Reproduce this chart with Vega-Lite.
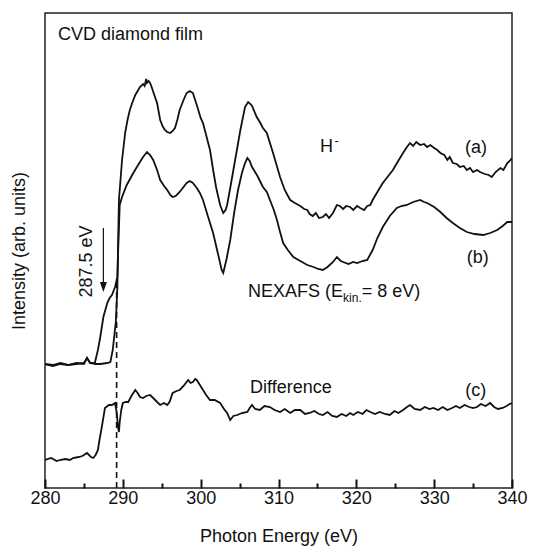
{
  "$schema": "https://vega.github.io/schema/vega-lite/v6.json",
  "width": 467,
  "height": 475,
  "autosize": {"type": "none"},
  "padding": {"left": 45, "top": 13, "right": 23, "bottom": 59},
  "background": "white",
  "config": {"view": {"stroke": "#222", "strokeWidth": 1.5}, "font": "Liberation Sans"},
  "resolve": {"axis": {"x": "independent"}},
  "datasets": {
    "one": [{}],
    "curves": [
      {"s":"a","e":280,"v":124},{"s":"a","e":281,"v":122},{"s":"a","e":282,"v":124},{"s":"a","e":283,"v":123},{"s":"a","e":284,"v":125},{"s":"a","e":285,"v":124},{"s":"a","e":285.4,"v":130},{"s":"a","e":285.8,"v":125},{"s":"a","e":286.5,"v":124},{"s":"a","e":287.1,"v":124},{"s":"a","e":288.0,"v":125},{"s":"a","e":288.4,"v":126},{"s":"a","e":288.7,"v":138},{"s":"a","e":289.1,"v":166},{"s":"a","e":289.3,"v":201},{"s":"a","e":289.4,"v":248},{"s":"a","e":289.5,"v":288},{"s":"a","e":289.9,"v":328},{"s":"a","e":290.3,"v":355},{"s":"a","e":290.6,"v":368},{"s":"a","e":290.9,"v":378},{"s":"a","e":291.2,"v":385},{"s":"a","e":291.6,"v":393},{"s":"a","e":292.2,"v":401},{"s":"a","e":292.6,"v":404},{"s":"a","e":292.8,"v":402},{"s":"a","e":293.0,"v":409},{"s":"a","e":293.1,"v":405},{"s":"a","e":293.3,"v":407},{"s":"a","e":293.5,"v":405},{"s":"a","e":293.7,"v":401},{"s":"a","e":294.0,"v":394},{"s":"a","e":294.4,"v":385},{"s":"a","e":294.8,"v":368},{"s":"a","e":295.1,"v":362},{"s":"a","e":295.4,"v":358},{"s":"a","e":295.7,"v":356},{"s":"a","e":296.1,"v":355},{"s":"a","e":296.4,"v":357},{"s":"a","e":296.7,"v":360},{"s":"a","e":297.0,"v":368},{"s":"a","e":297.3,"v":378},{"s":"a","e":297.8,"v":388},{"s":"a","e":298.2,"v":395},{"s":"a","e":298.6,"v":397},{"s":"a","e":299.0,"v":395},{"s":"a","e":299.5,"v":383},{"s":"a","e":300.0,"v":370},{"s":"a","e":300.3,"v":365},{"s":"a","e":300.7,"v":353},{"s":"a","e":301.2,"v":338},{"s":"a","e":301.6,"v":318},{"s":"a","e":302.0,"v":300},{"s":"a","e":302.5,"v":283},{"s":"a","e":302.9,"v":275},{"s":"a","e":303.2,"v":278},{"s":"a","e":303.4,"v":283},{"s":"a","e":303.8,"v":300},{"s":"a","e":304.2,"v":318},{"s":"a","e":304.7,"v":340},{"s":"a","e":305.1,"v":358},{"s":"a","e":305.7,"v":381},{"s":"a","e":306.1,"v":386},{"s":"a","e":306.4,"v":384},{"s":"a","e":306.6,"v":382},{"s":"a","e":307.2,"v":371},{"s":"a","e":307.6,"v":366},{"s":"a","e":308.0,"v":360},{"s":"a","e":308.5,"v":355},{"s":"a","e":309.3,"v":335},{"s":"a","e":310.2,"v":311},{"s":"a","e":310.8,"v":298},{"s":"a","e":311.5,"v":288},{"s":"a","e":312.1,"v":285},{"s":"a","e":312.8,"v":282},{"s":"a","e":313.3,"v":279},{"s":"a","e":313.7,"v":278},{"s":"a","e":314.0,"v":274},{"s":"a","e":314.4,"v":272},{"s":"a","e":314.8,"v":275},{"s":"a","e":315.2,"v":270},{"s":"a","e":315.7,"v":271},{"s":"a","e":316.1,"v":274},{"s":"a","e":316.5,"v":270},{"s":"a","e":317.0,"v":275},{"s":"a","e":317.5,"v":283},{"s":"a","e":317.9,"v":282},{"s":"a","e":318.3,"v":279},{"s":"a","e":318.7,"v":282},{"s":"a","e":319.2,"v":281},{"s":"a","e":319.6,"v":278},{"s":"a","e":320.1,"v":282},{"s":"a","e":320.5,"v":280},{"s":"a","e":321.0,"v":278},{"s":"a","e":321.4,"v":282},{"s":"a","e":321.8,"v":283},{"s":"a","e":322.1,"v":288},{"s":"a","e":322.7,"v":296},{"s":"a","e":323.4,"v":305},{"s":"a","e":324.0,"v":311},{"s":"a","e":324.7,"v":318},{"s":"a","e":325.3,"v":326},{"s":"a","e":326.0,"v":335},{"s":"a","e":326.5,"v":341},{"s":"a","e":326.9,"v":345},{"s":"a","e":327.3,"v":342},{"s":"a","e":327.7,"v":346},{"s":"a","e":328.2,"v":343},{"s":"a","e":328.7,"v":344},{"s":"a","e":329.1,"v":341},{"s":"a","e":329.5,"v":343},{"s":"a","e":330.0,"v":340},{"s":"a","e":330.4,"v":338},{"s":"a","e":330.8,"v":335},{"s":"a","e":331.3,"v":333},{"s":"a","e":331.7,"v":328},{"s":"a","e":332.0,"v":331},{"s":"a","e":332.4,"v":325},{"s":"a","e":332.9,"v":324},{"s":"a","e":333.3,"v":321},{"s":"a","e":333.8,"v":322},{"s":"a","e":334.2,"v":318},{"s":"a","e":334.6,"v":320},{"s":"a","e":335.0,"v":316},{"s":"a","e":335.5,"v":318},{"s":"a","e":335.9,"v":316},{"s":"a","e":336.5,"v":314},{"s":"a","e":337.0,"v":313},{"s":"a","e":337.4,"v":311},{"s":"a","e":337.9,"v":316},{"s":"a","e":338.5,"v":320},{"s":"a","e":338.9,"v":318},{"s":"a","e":339.4,"v":325},{"s":"a","e":339.7,"v":327},{"s":"a","e":340.0,"v":330},
      {"s":"b","e":280,"v":124},{"s":"b","e":281,"v":123},{"s":"b","e":282,"v":125},{"s":"b","e":283,"v":123},{"s":"b","e":284,"v":124},{"s":"b","e":285,"v":125},{"s":"b","e":285.4,"v":130},{"s":"b","e":285.8,"v":125},{"s":"b","e":286.4,"v":125},{"s":"b","e":286.8,"v":138},{"s":"b","e":287.1,"v":151},{"s":"b","e":287.5,"v":171},{"s":"b","e":288.0,"v":185},{"s":"b","e":288.3,"v":190},{"s":"b","e":288.6,"v":193},{"s":"b","e":289.0,"v":201},{"s":"b","e":289.3,"v":211},{"s":"b","e":289.4,"v":238},{"s":"b","e":289.6,"v":283},{"s":"b","e":289.9,"v":291},{"s":"b","e":290.5,"v":303},{"s":"b","e":291.2,"v":313},{"s":"b","e":291.8,"v":321},{"s":"b","e":292.2,"v":326},{"s":"b","e":292.6,"v":331},{"s":"b","e":293.1,"v":336},{"s":"b","e":293.5,"v":333},{"s":"b","e":293.9,"v":328},{"s":"b","e":294.4,"v":318},{"s":"b","e":294.8,"v":308},{"s":"b","e":295.3,"v":302},{"s":"b","e":295.7,"v":298},{"s":"b","e":296.1,"v":293},{"s":"b","e":296.4,"v":291},{"s":"b","e":296.8,"v":292},{"s":"b","e":297.3,"v":296},{"s":"b","e":297.8,"v":301},{"s":"b","e":298.2,"v":305},{"s":"b","e":298.6,"v":307},{"s":"b","e":299.0,"v":305},{"s":"b","e":299.5,"v":300},{"s":"b","e":299.9,"v":295},{"s":"b","e":300.3,"v":288},{"s":"b","e":301.0,"v":270},{"s":"b","e":301.6,"v":255},{"s":"b","e":302.2,"v":235},{"s":"b","e":302.7,"v":218},{"s":"b","e":302.9,"v":215},{"s":"b","e":303.3,"v":228},{"s":"b","e":303.8,"v":248},{"s":"b","e":304.3,"v":275},{"s":"b","e":304.8,"v":298},{"s":"b","e":305.3,"v":315},{"s":"b","e":305.7,"v":325},{"s":"b","e":306.0,"v":330},{"s":"b","e":306.3,"v":327},{"s":"b","e":306.6,"v":321},{"s":"b","e":307.3,"v":312},{"s":"b","e":308.0,"v":301},{"s":"b","e":308.5,"v":296},{"s":"b","e":308.9,"v":288},{"s":"b","e":309.4,"v":278},{"s":"b","e":309.8,"v":268},{"s":"b","e":310.2,"v":256},{"s":"b","e":310.6,"v":245},{"s":"b","e":311.2,"v":238},{"s":"b","e":311.9,"v":231},{"s":"b","e":312.8,"v":227},{"s":"b","e":313.7,"v":223},{"s":"b","e":314.5,"v":221},{"s":"b","e":315.1,"v":219},{"s":"b","e":315.7,"v":218},{"s":"b","e":316.3,"v":221},{"s":"b","e":317.0,"v":226},{"s":"b","e":317.5,"v":231},{"s":"b","e":318.0,"v":227},{"s":"b","e":318.3,"v":226},{"s":"b","e":319.0,"v":224},{"s":"b","e":319.6,"v":226},{"s":"b","e":320.1,"v":225},{"s":"b","e":320.8,"v":227},{"s":"b","e":321.4,"v":228},{"s":"b","e":322.1,"v":238},{"s":"b","e":322.7,"v":250},{"s":"b","e":323.4,"v":261},{"s":"b","e":324.3,"v":272},{"s":"b","e":325.2,"v":280},{"s":"b","e":325.8,"v":282},{"s":"b","e":326.5,"v":283},{"s":"b","e":327.3,"v":286},{"s":"b","e":328.2,"v":288},{"s":"b","e":328.7,"v":286},{"s":"b","e":329.1,"v":285},{"s":"b","e":330.0,"v":281},{"s":"b","e":330.8,"v":276},{"s":"b","e":331.6,"v":270},{"s":"b","e":332.4,"v":265},{"s":"b","e":333.3,"v":260},{"s":"b","e":334.2,"v":256},{"s":"b","e":335.2,"v":254},{"s":"b","e":336.3,"v":253},{"s":"b","e":337.2,"v":255},{"s":"b","e":338.1,"v":258},{"s":"b","e":338.8,"v":262},{"s":"b","e":339.4,"v":266},{"s":"b","e":340.0,"v":266},
      {"s":"c","e":280,"v":28},{"s":"c","e":280.8,"v":30},{"s":"c","e":281.5,"v":27},{"s":"c","e":281.9,"v":28},{"s":"c","e":282.6,"v":29},{"s":"c","e":283.2,"v":28},{"s":"c","e":283.6,"v":30},{"s":"c","e":284.3,"v":31},{"s":"c","e":284.8,"v":32},{"s":"c","e":285.4,"v":35},{"s":"c","e":285.9,"v":31},{"s":"c","e":286.2,"v":30},{"s":"c","e":286.5,"v":33},{"s":"c","e":286.8,"v":38},{"s":"c","e":287.0,"v":48},{"s":"c","e":287.3,"v":61},{"s":"c","e":287.7,"v":80},{"s":"c","e":288.2,"v":83},{"s":"c","e":288.6,"v":83},{"s":"c","e":289.0,"v":85},{"s":"c","e":289.2,"v":76},{"s":"c","e":289.4,"v":60},{"s":"c","e":289.5,"v":56},{"s":"c","e":289.6,"v":66},{"s":"c","e":289.8,"v":78},{"s":"c","e":290.0,"v":85},{"s":"c","e":290.4,"v":86},{"s":"c","e":290.7,"v":86},{"s":"c","e":291.1,"v":92},{"s":"c","e":291.6,"v":98},{"s":"c","e":291.9,"v":95},{"s":"c","e":292.2,"v":91},{"s":"c","e":292.6,"v":90},{"s":"c","e":293.0,"v":92},{"s":"c","e":293.5,"v":93},{"s":"c","e":293.9,"v":90},{"s":"c","e":294.4,"v":86},{"s":"c","e":294.8,"v":83},{"s":"c","e":295.3,"v":85},{"s":"c","e":295.7,"v":83},{"s":"c","e":296.0,"v":86},{"s":"c","e":296.4,"v":95},{"s":"c","e":296.9,"v":97},{"s":"c","e":297.3,"v":98},{"s":"c","e":297.8,"v":102},{"s":"c","e":298.4,"v":108},{"s":"c","e":298.7,"v":105},{"s":"c","e":299.0,"v":106},{"s":"c","e":299.3,"v":109},{"s":"c","e":299.5,"v":108},{"s":"c","e":299.9,"v":103},{"s":"c","e":300.3,"v":98},{"s":"c","e":300.7,"v":93},{"s":"c","e":301.2,"v":88},{"s":"c","e":301.8,"v":88},{"s":"c","e":302.5,"v":85},{"s":"c","e":303.0,"v":79},{"s":"c","e":303.4,"v":75},{"s":"c","e":303.8,"v":68},{"s":"c","e":304.2,"v":72},{"s":"c","e":304.7,"v":73},{"s":"c","e":305.3,"v":75},{"s":"c","e":306.0,"v":76},{"s":"c","e":306.3,"v":80},{"s":"c","e":306.6,"v":83},{"s":"c","e":307.0,"v":79},{"s":"c","e":307.6,"v":78},{"s":"c","e":308.2,"v":82},{"s":"c","e":308.9,"v":81},{"s":"c","e":309.5,"v":78},{"s":"c","e":310.2,"v":76},{"s":"c","e":310.8,"v":79},{"s":"c","e":311.5,"v":75},{"s":"c","e":312.1,"v":78},{"s":"c","e":312.8,"v":78},{"s":"c","e":313.4,"v":74},{"s":"c","e":314.0,"v":75},{"s":"c","e":314.6,"v":77},{"s":"c","e":315.2,"v":74},{"s":"c","e":315.7,"v":73},{"s":"c","e":316.3,"v":76},{"s":"c","e":316.9,"v":72},{"s":"c","e":317.5,"v":71},{"s":"c","e":318.1,"v":74},{"s":"c","e":318.7,"v":72},{"s":"c","e":319.2,"v":75},{"s":"c","e":319.6,"v":73},{"s":"c","e":320.2,"v":76},{"s":"c","e":320.8,"v":74},{"s":"c","e":321.3,"v":78},{"s":"c","e":321.8,"v":76},{"s":"c","e":322.4,"v":74},{"s":"c","e":323.0,"v":76},{"s":"c","e":323.7,"v":74},{"s":"c","e":324.3,"v":73},{"s":"c","e":324.9,"v":77},{"s":"c","e":325.4,"v":75},{"s":"c","e":326.0,"v":78},{"s":"c","e":326.5,"v":81},{"s":"c","e":326.9,"v":83},{"s":"c","e":327.5,"v":79},{"s":"c","e":328.2,"v":78},{"s":"c","e":328.8,"v":81},{"s":"c","e":329.4,"v":79},{"s":"c","e":329.9,"v":80},{"s":"c","e":330.5,"v":78},{"s":"c","e":331.1,"v":81},{"s":"c","e":331.7,"v":78},{"s":"c","e":332.3,"v":80},{"s":"c","e":332.8,"v":82},{"s":"c","e":333.3,"v":80},{"s":"c","e":333.9,"v":83},{"s":"c","e":334.5,"v":81},{"s":"c","e":335.0,"v":80},{"s":"c","e":335.5,"v":81},{"s":"c","e":336.0,"v":84},{"s":"c","e":336.6,"v":82},{"s":"c","e":337.2,"v":85},{"s":"c","e":337.7,"v":81},{"s":"c","e":338.2,"v":79},{"s":"c","e":338.8,"v":80},{"s":"c","e":339.3,"v":82},{"s":"c","e":339.7,"v":84},{"s":"c","e":340.0,"v":85}
    ]
  },
  "layer": [
    {
      "data": {"name": "curves"},
      "mark": {"type": "line", "strokeWidth": 1.8, "color": "#111", "clip": true},
      "encoding": {
        "x": {
          "field": "e", "type": "quantitative",
          "scale": {"domain": [280, 340], "nice": false, "zero": false},
          "axis": {
            "orient": "bottom",
            "title": "Photon Energy (eV)",
            "values": [280, 290, 300, 310, 320, 330, 340],
            "domain": false, "grid": false, "labelOverlap": false, "labelFlush": false,
            "tickSize": -9, "tickWidth": 2, "tickColor": "#111",
            "labelFontSize": 18, "labelColor": "#111", "labelPadding": 10,
            "titleFontSize": 18, "titleFontWeight": "normal", "titleColor": "#111",
            "titleY": 53, "titleBaseline": "alphabetic"
          }
        },
        "y": {
          "field": "v", "type": "quantitative",
          "scale": {"domain": [0, 475], "nice": false, "zero": false},
          "axis": {
            "title": "Intensity (arb. units)",
            "labels": false, "ticks": false, "domain": false, "grid": false,
            "titleFontSize": 18, "titleFontWeight": "normal", "titleColor": "#111",
            "titleX": -26, "titleY": 237.5, "titleAngle": -90,
            "titleAlign": "center", "titleBaseline": "middle"
          }
        },
        "detail": {"field": "s"}
      }
    },
    {
      "data": {"name": "one"},
      "mark": {"type": "rule", "strokeDash": [6, 4], "strokeWidth": 1.6, "color": "#111"},
      "encoding": {
        "x": {
          "datum": 289.2, "type": "quantitative",
          "axis": {
            "orient": "bottom", "title": null, "labels": false,
            "values": [285, 295, 305, 315, 325, 335],
            "domain": false, "grid": false,
            "tickSize": -5, "tickWidth": 2, "tickColor": "#111"
          }
        },
        "y": {"datum": 0}, "y2": {"datum": 208}
      }
    },
    {
      "data": {"name": "one"},
      "mark": {"type": "rule", "strokeWidth": 1.2, "color": "#111"},
      "encoding": {"x": {"datum": 287.5, "axis": null}, "y": {"datum": 260}, "y2": {"datum": 201}}
    },
    {
      "data": {"name": "one"},
      "mark": {"type": "point", "shape": "M-0.35,-0.5L0.35,-0.5L0,0.5Z", "size": 400, "filled": true, "color": "#111", "opacity": 1},
      "encoding": {"x": {"datum": 287.5, "axis": null}, "y": {"datum": 201}}
    },
    {
      "data": {"name": "one"},
      "mark": {"type": "text", "text": "CVD diamond film", "fontSize": 18, "align": "left", "baseline": "alphabetic", "color": "#111"},
      "encoding": {"x": {"datum": 281.67, "axis": null}, "y": {"datum": 448}}
    },
    {
      "data": {"name": "one"},
      "mark": {"type": "text", "text": "H", "fontSize": 18, "align": "left", "baseline": "alphabetic", "color": "#111"},
      "encoding": {"x": {"datum": 315.33, "axis": null}, "y": {"datum": 336}}
    },
    {
      "data": {"name": "one"},
      "mark": {"type": "text", "text": "-", "fontSize": 13, "align": "left", "baseline": "alphabetic", "color": "#111"},
      "encoding": {"x": {"datum": 317.2, "axis": null}, "y": {"datum": 343}}
    },
    {
      "data": {"name": "one"},
      "mark": {"type": "text", "text": "(a)", "fontSize": 18, "align": "left", "baseline": "alphabetic", "color": "#111"},
      "encoding": {"x": {"datum": 333.96, "axis": null}, "y": {"datum": 335}}
    },
    {
      "data": {"name": "one"},
      "mark": {"type": "text", "text": "(b)", "fontSize": 18, "align": "left", "baseline": "alphabetic", "color": "#111"},
      "encoding": {"x": {"datum": 334.2, "axis": null}, "y": {"datum": 225}}
    },
    {
      "data": {"name": "one"},
      "mark": {"type": "text", "text": "(c)", "fontSize": 18, "align": "left", "baseline": "alphabetic", "color": "#111"},
      "encoding": {"x": {"datum": 334.0, "axis": null}, "y": {"datum": 92}}
    },
    {
      "data": {"name": "one"},
      "mark": {"type": "text", "text": "NEXAFS (E", "fontSize": 18, "align": "left", "baseline": "alphabetic", "color": "#111"},
      "encoding": {"x": {"datum": 306.08, "axis": null}, "y": {"datum": 191}}
    },
    {
      "data": {"name": "one"},
      "mark": {"type": "text", "text": "kin.", "fontSize": 12, "align": "left", "baseline": "alphabetic", "color": "#111"},
      "encoding": {"x": {"datum": 318.3, "axis": null}, "y": {"datum": 186}}
    },
    {
      "data": {"name": "one"},
      "mark": {"type": "text", "text": "= 8 eV)", "fontSize": 18, "align": "left", "baseline": "alphabetic", "color": "#111"},
      "encoding": {"x": {"datum": 320.7, "axis": null}, "y": {"datum": 191}}
    },
    {
      "data": {"name": "one"},
      "mark": {"type": "text", "text": "Difference", "fontSize": 18, "align": "left", "baseline": "alphabetic", "color": "#111"},
      "encoding": {"x": {"datum": 306.34, "axis": null}, "y": {"datum": 95}}
    },
    {
      "data": {"name": "one"},
      "mark": {"type": "text", "text": "287.5 eV", "fontSize": 18, "align": "center", "baseline": "alphabetic", "angle": 270, "color": "#111"},
      "encoding": {"x": {"datum": 286.1, "axis": null}, "y": {"datum": 226.5}}
    }
  ]
}
